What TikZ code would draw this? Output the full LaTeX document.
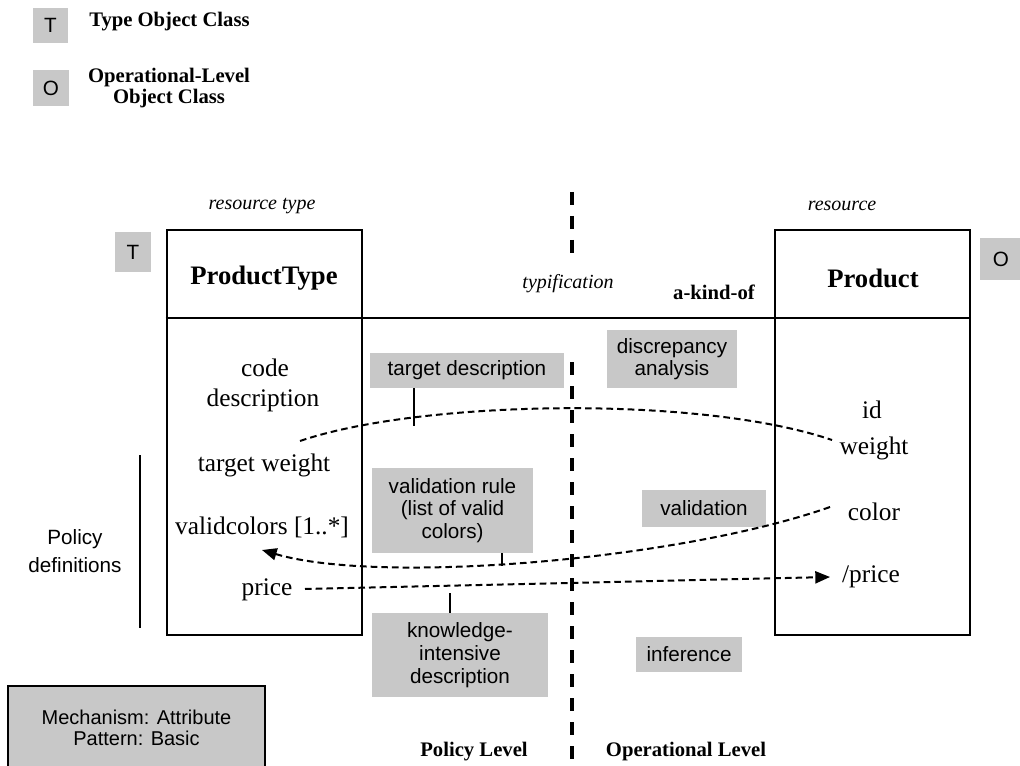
\documentclass[tikz,border=0pt]{standalone}
\usepackage{fontspec}
\setmainfont{Liberation Serif}
\setsansfont{Liberation Sans}
\usetikzlibrary{arrows.meta}
\definecolor{labelgray}{RGB}{200,200,200}
\begin{document}
\begin{tikzpicture}[x=0.75pt,y=-0.75pt,
  classbox/.style={draw, line width=1.9pt, inner sep=0pt,
    minimum width=195*0.75pt, minimum height=405*0.75pt},
  classname/.style={font=\bfseries\fontsize{20}{22}\selectfont, inner sep=0pt},
  attr/.style={font=\fontsize{19}{22}\selectfont, inner sep=0pt},
  tag/.style={fill=labelgray, inner sep=0pt, font=\sffamily\fontsize{15.5}{15}\selectfont},
  note/.style={fill=labelgray, inner sep=0pt, align=center,
    font=\sffamily\fontsize{15.5}{17}\selectfont},
  legend/.style={font=\bfseries\fontsize{15.5}{14}\selectfont, inner sep=0pt, align=center},
  role/.style={font=\itshape\fontsize{15}{16}\selectfont, inner sep=0pt},
  level/.style={font=\bfseries\fontsize{15.5}{16}\selectfont, inner sep=0pt},
  divider/.style={line width=3pt, dash pattern=on 9.75pt off 8.25pt},
  link/.style={line width=1.5pt, dash pattern=on 5pt off 3pt},
  tip/.style={-{Triangle[length=11pt,width=9pt]}},
  tick/.style={line width=0.8pt}
]
\useasboundingbox (0,0) rectangle (1020,766);
\clip (0,0) rectangle (1020,766);

% legend
\node[tag, minimum width=35*0.75pt, minimum height=35*0.75pt] (legT) at (50.5,25.5) {T};
\node[legend, anchor=west] (legTtext) at (89,22) {Type Object Class};
\node[tag, minimum width=36*0.75pt, minimum height=36*0.75pt] (legO) at (51,88) {O};
\node[legend] (legOtext) at (169,88) {Operational-Level\\Object Class};

% level divider, interrupted around the header row
\draw[divider] (572,192) -- (572,258);
\draw[divider] (572,362) -- (572,770);

% classes
\node[classbox] (ptbox) at (264.5,432.5) {};
\node[classbox] (pbox) at (872.5,432.5) {};
\draw[line width=1.9pt] (ptbox.west |- 0,318) -- (pbox.east |- 0,318);

\node[role] (rtype) at (262,206) {resource type};
\node[role] (rinst) at (842,206) {resource};
\node[tag, minimum width=36*0.75pt, minimum height=40*0.75pt] (tagT) at (133,252) {T};
\node[tag, minimum width=42*0.75pt, minimum height=42*0.75pt] (tagO) at (1001,259) {O};

\node[classname] (ptname) at (264,278) {ProductType};
\node[classname] (pname) at (873,278) {Product};
\node[role] (typif) at (568,284) {typification};
\node[level] (akind) at (714,292) {a-kind-of};

% attributes
\node[attr] (code) at (265,368) {code};
\node[attr] (desc) at (263,400) {description};
\node[attr] (tweight) at (264,465) {target weight};
\node[attr] (vcolors) at (262,527) {validcolors [1..*]};
\node[attr] (price) at (267,590) {price};

\node[attr] (id) at (872,410) {id};
\node[attr] (weight) at (874,448) {weight};
\node[attr] (color) at (874,512) {color};
\node[attr] (dprice) at (871,577) {/price};

% mechanism notes
\node[note, minimum width=194*0.75pt, minimum height=35*0.75pt] (tdesc) at (467,370.5) {target description};
\node[note, minimum width=130*0.75pt, minimum height=58*0.75pt] (disc) at (672,359) {discrepancy\\analysis};
\node[note, minimum width=161*0.75pt, minimum height=85*0.75pt] (vrule) at (452.5,510.5) {validation rule\\(list of valid\\colors)};
\node[note, minimum width=124*0.75pt, minimum height=37*0.75pt] (valid) at (704,508) {validation};
\node[note, minimum width=176*0.75pt, minimum height=84*0.75pt] (know) at (460,655) {knowledge-\\intensive\\description};
\node[note, minimum width=106*0.75pt, minimum height=35*0.75pt] (infer) at (689,654) {inference};

% connector ends
\coordinate (wA) at (300,441);
\coordinate (wB) at (832,440);
\coordinate (cA) at (830,507);
\coordinate (cB) at (262,550);
\coordinate (pA) at (305,589);
\coordinate (pB) at (830,577);
\coordinate (tdHit) at (414,426);
\coordinate (vrHit) at (502,566);
\coordinate (knHit) at (450,593);

\draw[link] (wA) .. controls (420,400) and (700,395) .. (wB);
\draw[link, tip] (cA) .. controls (680,560) and (380,585) .. (cB);
\draw[link, tip] (pA) -- (pB);

\draw[tick] (tdesc.south -| tdHit) -- (tdHit);
\draw[tick] (vrule.south -| vrHit) -- (vrHit);
\draw[tick] (know.north -| knHit) -- (knHit);

% policy bracket
\node[inner sep=0pt, align=center, font=\sffamily\fontsize{15.5}{21}\selectfont] (poldef) at (75,551) {Policy\\definitions};
\coordinate (brTop) at (140,455);
\coordinate (brBot) at (140,628);
\draw[line width=1.9pt] (brTop) -- (brBot);

% levels
\node[level] (plevel) at (474,752) {Policy Level};
\node[level] (olevel) at (686,752) {Operational Level};

% mechanism summary
\node[draw, line width=1.5pt, fill=labelgray, inner sep=0pt, align=center,
  minimum width=257*0.75pt, minimum height=84*0.75pt,
  font=\sffamily\fontsize{15}{16}\selectfont] (mech) at (136.5,728) {Mechanism: Attribute\\Pattern: Basic};
\end{tikzpicture}
\end{document}
